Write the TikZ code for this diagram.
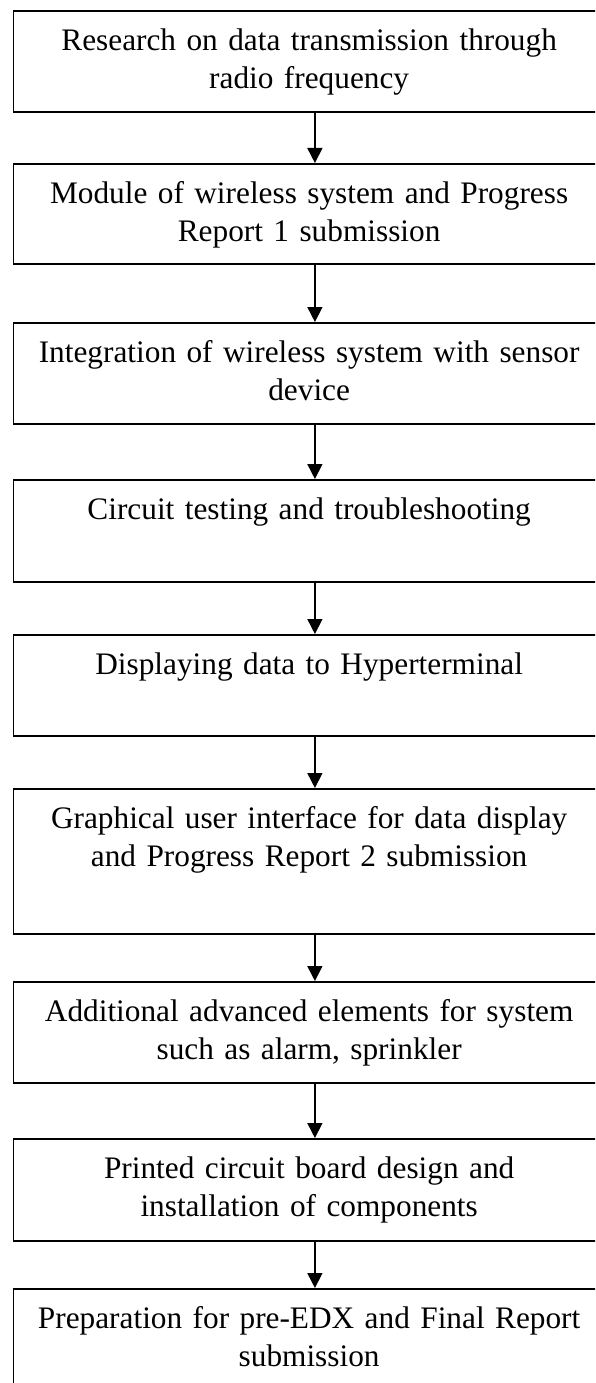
\documentclass[tikz,border=0pt]{standalone}
\usepackage{fontspec}
\setmainfont{Liberation Serif}
\usetikzlibrary{arrows.meta}
\begin{document}
\begin{tikzpicture}[x=1pt,y=-1pt,
  stepbox/.style={draw, rectangle, line width=1.8pt, minimum width=591.5pt,
    inner sep=0pt, anchor=north west},
  steptext/.style={anchor=base, align=center, text width=580pt, inner sep=0pt,
    font=\fontsize{31.3pt}{38pt}\selectfont},
  flow/.style={line width=1.6pt, -{Triangle[length=15pt,width=15pt]}}]

\useasboundingbox (0,0) rectangle (595,1383);
\clip (0,0) rectangle (595,1383);

% process steps (top edge, height)
\node[stepbox, minimum height=101pt] (b1) at (12.5,10)   {};
\node[stepbox, minimum height=100pt] (b2) at (12.5,163)  {};
\node[stepbox, minimum height=101pt] (b3) at (12.5,322)  {};
\node[stepbox, minimum height=102pt] (b4) at (12.5,479)  {};
\node[stepbox, minimum height=101pt] (b5) at (12.5,634)  {};
\node[stepbox, minimum height=145pt] (b6) at (12.5,788)  {};
\node[stepbox, minimum height=101pt] (b7) at (12.5,981)  {};
\node[stepbox, minimum height=102pt] (b8) at (12.5,1138) {};
\node[stepbox, minimum height=101pt] (b9) at (12.5,1288) {};

% step descriptions, set near the top of each box
\node[steptext] (t1) at ([yshift=-40.5pt]b1.north) {Research on data transmission through\\radio frequency};
\node[steptext] (t2) at ([yshift=-40.5pt]b2.north) {Module of wireless system and Progress\\Report 1 submission};
\node[steptext] (t3) at ([yshift=-40.5pt]b3.north) {Integration of wireless system with sensor\\device};
\node[steptext] (t4) at ([yshift=-40.5pt]b4.north) {Circuit testing and troubleshooting};
\node[steptext] (t5) at ([yshift=-40.5pt]b5.north) {Displaying data to Hyperterminal};
\node[steptext] (t6) at ([yshift=-40.5pt]b6.north) {Graphical user interface for data display\\and Progress Report 2 submission};
\node[steptext] (t7) at ([yshift=-40.5pt]b7.north) {Additional advanced elements for system\\such as alarm, sprinkler};
\node[steptext] (t8) at ([yshift=-40.5pt]b8.north) {Printed circuit board design and\\installation of components};
\node[steptext] (t9) at ([yshift=-40.5pt]b9.north) {Preparation for pre-EDX and Final Report\\submission};

% arrows between consecutive steps
\foreach \a/\b in {b1/b2,b2/b3,b3/b4,b4/b5,b5/b6,b6/b7,b7/b8,b8/b9}
  \draw[flow] ([xshift=5.75pt]\a.south) -- ([xshift=5.75pt]\b.north);
\end{tikzpicture}
\end{document}
